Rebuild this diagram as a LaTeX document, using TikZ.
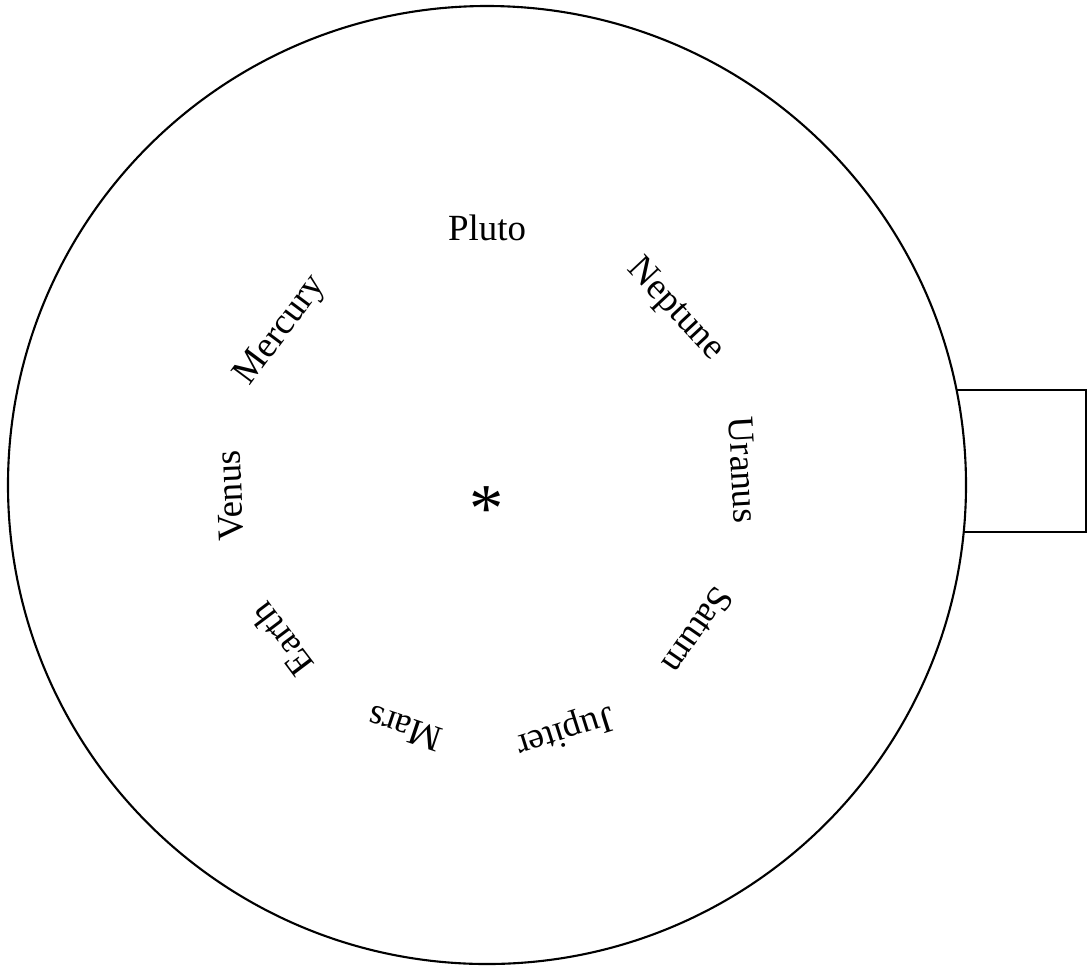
\documentclass[tikz,border=0pt]{standalone}
\usepackage{fontspec}
\setmainfont{Liberation Serif}

\begin{document}
\begin{tikzpicture}[line width=0.6pt,
  planet/.style={font=\fontsize{10.5}{12}\selectfont,inner sep=0pt}]
\useasboundingbox (-4.87,-4.84) rectangle (6.02,4.85);

% Handle on the right, its left end hidden under the dial
\draw (4.5,-0.47) rectangle (5.99,0.95);
\draw[fill=white] (0,0) circle (4.79);

% Centre mark
\node[font=\fontsize{19.5}{22}\selectfont,inner sep=0pt] (centre) at (0,-0.24) {*};

% Planet names round the centre, each one tangent to the ring
\foreach \ang/\name in {90/Pluto,43/Neptune,3.4/Uranus,-34.6/Saturn,-72.4/Jupiter,
                        -108.6/Mars,-143/Earth,182.4/Venus,143.2/Mercury}
  \node[planet,rotate=\ang-90] (\name) at (\ang:2.57) {\name};

\end{tikzpicture}
\end{document}
